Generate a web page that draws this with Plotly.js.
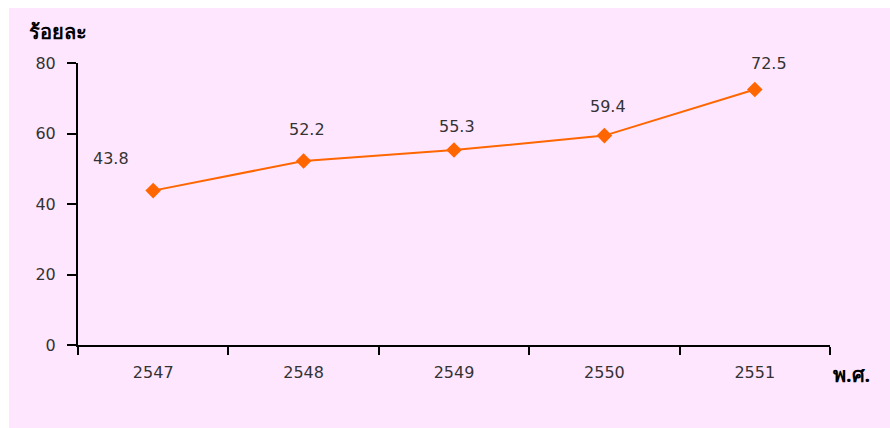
<!DOCTYPE html>
<html>
<head>
<meta charset="utf-8">
<script src="https://cdn.plot.ly/plotly-3.0.1.min.js"></script>
<style>
  html, body { margin: 0; padding: 0; background: #ffffff; }
  #frame { position: absolute; left: 9px; top: 8px; width: 881px; height: 420px; background: #ffe6ff; }
  #chart { width: 881px; height: 420px; }
</style>
</head>
<body>
<div id="frame"><div id="chart"></div></div>
<script>
// Buddhist-era years and percentage values
const years = ['2547', '2548', '2549', '2550', '2551'];
const percent = [43.8, 52.2, 55.3, 59.4, 72.5];
const yTicks = [0, 20, 40, 60, 80];

// value-label offsets in pixels (relative to each marker)
const labelDx = [-42, 3, 3, 4, 14];
const labelDy = [32, 32, 24, 29, 26];

const textFont = { family: '"DejaVu Sans", "Noto Sans", sans-serif', size: 16, color: '#333333' };
const boldFont = { family: '"Noto Sans", "DejaVu Sans", sans-serif', size: 20, color: '#000000', weight: 'bold' };

const trace = {
  x: years,
  y: percent,
  type: 'scatter',
  mode: 'lines+markers',
  line: { color: '#ff6600', width: 2 },
  marker: { symbol: 'diamond', size: 12, color: '#ff6600' },
  hoverinfo: 'skip'
};

const valueLabels = years.map((yr, i) => ({
  x: i, y: percent[i], xref: 'x', yref: 'y',
  text: percent[i].toFixed(1),
  showarrow: false,
  xanchor: 'center', yanchor: 'middle',
  xshift: labelDx[i], yshift: labelDy[i],
  font: textFont
}));

const layout = {
  width: 881, height: 420,
  margin: { l: 69, r: 60, t: 55, b: 83 },
  paper_bgcolor: 'rgba(0,0,0,0)',
  plot_bgcolor: 'rgba(0,0,0,0)',
  showlegend: false,
  xaxis: {
    type: 'category',
    range: [-0.5, 4.5],
    tickson: 'boundaries',
    ticks: 'outside', ticklen: 8, tickwidth: 2, tickcolor: '#000',
    showline: true, linecolor: '#000', linewidth: 2,
    showgrid: false, zeroline: false,
    tickfont: textFont,
    ticklabelstandoff: 12
  },
  yaxis: {
    range: [0, 80],
    tickvals: yTicks,
    ticktext: yTicks.map(String),
    ticks: 'outside', ticklen: 9, tickwidth: 2, tickcolor: '#000',
    showline: true, linecolor: '#000', linewidth: 2,
    showgrid: false, zeroline: false,
    tickfont: textFont,
    ticklabelstandoff: 8
  },
  annotations: valueLabels.concat([
    { text: 'ร้อยละ', xref: 'paper', yref: 'paper', x: -0.027, y: 1.11,
      xanchor: 'center', yanchor: 'middle', showarrow: false, font: boldFont },
    { text: 'พ.ศ.', xref: 'paper', yref: 'paper', x: 1.028, y: -0.103,
      xanchor: 'center', yanchor: 'middle', showarrow: false, font: boldFont }
  ])
};

Plotly.newPlot('chart', [trace], layout, { displayModeBar: false, staticPlot: true });
</script>
</body>
</html>
